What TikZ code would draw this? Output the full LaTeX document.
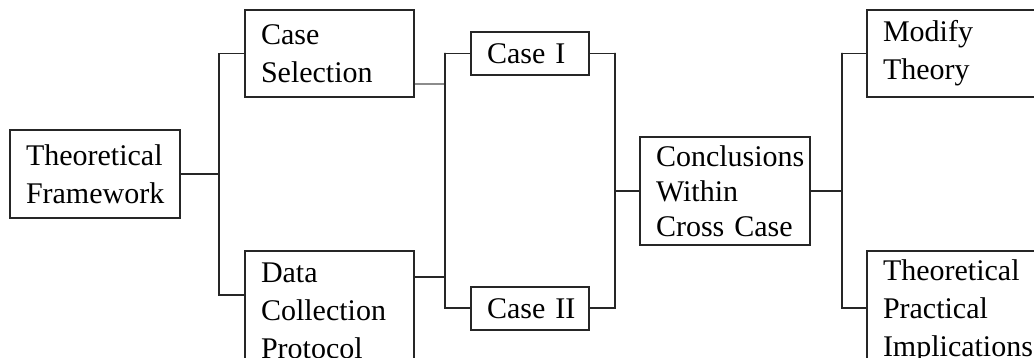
\documentclass[tikz,border=0pt]{standalone}
\usepackage{fontspec}
\setmainfont{Liberation Serif}
\begin{document}
\begin{tikzpicture}[x=1pt,y=-1pt,
  box/.style={draw=black!85, line width=1.4pt, rectangle, inner xsep=0pt, inner ysep=0pt,
    align=left, font=\fontsize{30}{38}\selectfont, anchor=center,
    execute at begin node={\leftskip=16pt\hyphenpenalty=10000\exhyphenpenalty=10000}},
  link/.style={draw=black!85, line width=1.4pt},
  thinlink/.style={draw=black!45, line width=1.2pt}]
\useasboundingbox (0,0) rectangle (1034,358);
\clip (0,0) rectangle (1034,358);
% boxes
\node[box, minimum height=88pt, text width=170pt] (tf) at (95,174) {Theoretical\\Framework};
\node[box, minimum height=87pt, text width=169pt] (cs) at (329.5,53.5) {Case\\Selection};
\node[box, minimum height=120pt, text width=169pt] (dc) at (329.5,311) {Data\\Collection\\Protocol};
\node[box, minimum height=43pt, text width=118pt] (c1) at (530,53.5) {Case I};
\node[box, minimum height=43pt, text width=118pt] (c2) at (530,308.5) {Case II};
\node[box, minimum height=108pt, text width=170pt, font=\fontsize{30}{35}\selectfont] (cc) at (725,191) {Conclusions\\Within\\Cross Case};
\node[box, minimum height=87pt, text width=190pt] (mt) at (962,53.5) {Modify\\Theory};
\node[box, minimum height=120pt, text width=190pt] (tp) at (962,311) {Theoretical\\Practical\\Implications};
% junction points
\coordinate (j1) at (219,174);
\coordinate (dcin) at (dc.west |- 0,295);
\coordinate (csout) at (cs.east |- 0,84);
\coordinate (dcout) at (dc.east |- 0,277);
\coordinate (j2t) at (445,53);
\coordinate (j2b) at (445,308);
\coordinate (c2in) at (c2.west |- j2b);
\coordinate (c2out) at (c2.east |- j2b);
\coordinate (j3t) at (615,53);
\coordinate (j3b) at (615,308);
\coordinate (j4t) at (842,53);
\coordinate (j4b) at (842,308);
\coordinate (tpin) at (tp.west |- j4b);
% connectors
\draw[link] (tf.east) -- (j1);
\draw[link] (cs.west) -| (j1) |- (dcin);
\draw[thinlink] (csout) -- (csout -| j2t);
\draw[link] (dcout) -- (dcout -| j2t);
\draw[link] (c1.west) -| (j2t) -- (j2b) -- (c2in);
\draw[link] (c1.east) -| (j3t) -- (j3b) -- (c2out);
\draw[link] (cc.west) -- (cc.west -| j3t);
\draw[link] (cc.east) -- (cc.east -| j4t);
\draw[link] (mt.west) -| (j4t) -- (j4b) -- (tpin);
\end{tikzpicture}
\end{document}
